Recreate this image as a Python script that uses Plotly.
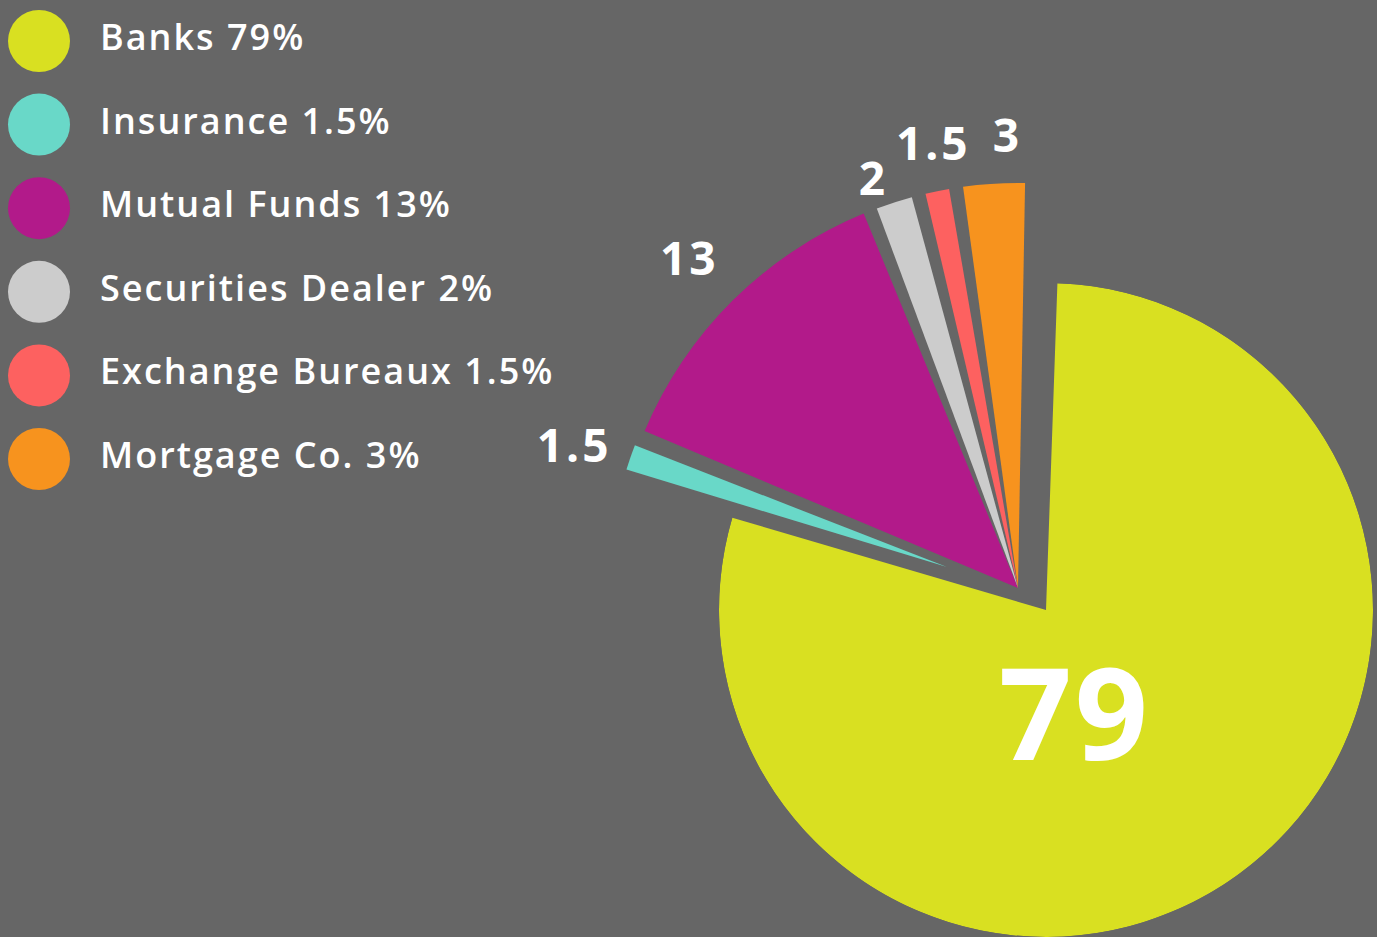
import math
import plotly.graph_objects as go

# ---------------- data ----------------
categories = ["Banks", "Insurance", "Mutual Funds", "Securities Dealer",
              "Exchange Bureaux", "Mortgage Co."]
shares = [79, 1.5, 13, 2, 1.5, 3]
share_labels = ["79", "1.5", "13", "2", "1.5", "3"]
legend_labels = ["Banks 79%", "Insurance 1.5%", "Mutual Funds 13%",
                 "Securities Dealer 2%", "Exchange Bureaux 1.5%", "Mortgage Co. 3%"]

# ---------------- style ----------------
W, H = 1377, 937
BG = "#666666"
FONT = "'Open Sans', Lato, sans-serif"
colors = ["#d9e021", "#69d8c8", "#b21a8a", "#cccccc", "#fd6160", "#f7931e"]
ROTATION = 2                      # start angle of first slice (deg, clockwise from 12 o'clock)
PAD = [0, 0.5, 1, 1, 1, 1]        # angular padding per side (deg)
GROUP = [0, 2, 1, 1, 1, 1]        # polar frame each slice is drawn in
LABEL_POS = ["middle center", "middle left", "top left", "middle left",
             "top center", "top right"]
FRAMES = [
    dict(cx=1046, cy=610, r_slice=327, r_frame=327, sector=[0, 360]),
    dict(cx=1018, cy=588, r_slice=405, r_frame=500, sector=[80, 180]),
    dict(cx=947, cy=567, r_slice=335, r_frame=420, sector=[150, 190]),
]
LABEL_GAP = 20
BIG_LABEL_FRAC = 0.37
BIG_LABEL_DTHETA = 22
LEG_X, LEG_TX, LEG_Y0, LEG_STEP = 39, 100, 41, 83.6


def sector_bbox(sector):
    s0, s1 = sector
    arc = s1 - s0
    a0 = s0 % 360
    a1 = a0 + arc
    ax0, ay0 = math.cos(math.radians(a0)), math.sin(math.radians(a0))
    ax1, ay1 = math.cos(math.radians(a1)), math.sin(math.radians(a1))
    if (a0 <= 90 and a1 >= 90) or (a0 > 90 and a1 >= 450):
        y1 = 1
    elif ay0 <= 0 and ay1 <= 0:
        y1 = 0
    else:
        y1 = max(ay0, ay1)
    if (a0 <= 180 and a1 >= 180) or (a0 > 180 and a1 >= 540):
        x0 = -1
    elif ax0 >= 0 and ax1 >= 0:
        x0 = 0
    else:
        x0 = min(ax0, ax1)
    if (a0 <= 270 and a1 >= 270) or (a0 > 270 and a1 >= 630):
        y0 = -1
    elif ay0 >= 0 and ay1 >= 0:
        y0 = 0
    else:
        y0 = min(ay0, ay1)
    if a1 >= 360:
        x1 = 1
    elif ax0 <= 0 and ax1 <= 0:
        x1 = 0
    else:
        x1 = max(ax0, ax1)
    return x0, y0, x1, y1


def clamp(v):
    return max(0.0, min(1.0, v))


# slice geometry from the data
total = sum(shares)
spans = [s / total * 360 for s in shares]
starts, acc = [], ROTATION
for sp in spans:
    starts.append(acc)
    acc += sp
centers = [st + sp / 2 for st, sp in zip(starts, spans)]
widths = [sp - 2 * p for sp, p in zip(spans, PAD)]

fig = go.Figure()
layout_polars = {}

for k, fr in enumerate(FRAMES):
    pname = "polar" if k == 0 else f"polar{k + 1}"
    idx = [i for i, g in enumerate(GROUP) if g == k]
    fig.add_trace(go.Barpolar(
        r=[fr["r_slice"]] * len(idx),
        theta=[centers[i] for i in idx],
        width=[widths[i] for i in idx],
        marker=dict(color=[colors[i] for i in idx], line=dict(width=0)),
        subplot=pname, hoverinfo="skip", showlegend=False,
    ))
    # value labels
    for i in idx:
        if shares[i] == max(shares):
            r_lab, th_lab, size = (fr["r_slice"] * BIG_LABEL_FRAC,
                                   centers[i] + BIG_LABEL_DTHETA, 128)
        else:
            r_lab, th_lab, size = fr["r_slice"] + LABEL_GAP, centers[i], 46
        fig.add_trace(go.Scatterpolar(
            r=[r_lab], theta=[th_lab], text=[share_labels[i]],
            mode="text", textposition=LABEL_POS[i], cliponaxis=False,
            textfont=dict(family=FONT, size=size, color="white", weight=700),
            subplot=pname, hoverinfo="skip", showlegend=False,
        ))
    bx0, by0, bx1, by1 = sector_bbox(fr["sector"])
    R = fr["r_frame"]
    left, right = fr["cx"] + R * bx0, fr["cx"] + R * bx1
    top, bottom = fr["cy"] - R * by1, fr["cy"] - R * by0
    layout_polars[pname] = dict(
        domain=dict(x=[clamp(left / W), clamp(right / W)],
                    y=[clamp((H - bottom) / H), clamp((H - top) / H)]),
        sector=fr["sector"], bgcolor="rgba(0,0,0,0)", hole=0,
        barmode="overlay",
        radialaxis=dict(visible=False, range=[0, R], showgrid=False, showline=False),
        angularaxis=dict(visible=False, rotation=90, direction="clockwise",
                         showgrid=False, showline=False),
    )

# custom legend with big round swatches
leg_y = [LEG_Y0 + i * LEG_STEP for i in range(len(categories))]
fig.add_trace(go.Scatter(
    x=[LEG_X] * len(categories), y=leg_y, mode="markers",
    marker=dict(size=62, color=colors, line=dict(width=0)),
    hoverinfo="skip", showlegend=False,
))
fig.add_trace(go.Scatter(
    x=[LEG_TX] * len(categories), y=leg_y, mode="text",
    text=legend_labels, textposition="middle right", cliponaxis=False,
    textfont=dict(family=FONT, size=36, color="white", weight=600),
    hoverinfo="skip", showlegend=False,
))

fig.update_layout(
    width=W, height=H, autosize=False,
    margin=dict(l=0, r=0, t=0, b=0, pad=0),
    paper_bgcolor=BG, plot_bgcolor=BG,
    showlegend=False,
    xaxis=dict(range=[0, W], domain=[0, 1], visible=False, fixedrange=True),
    yaxis=dict(range=[H, 0], domain=[0, 1], visible=False, fixedrange=True),
    **layout_polars,
)

POST = (
    "document.body.style.margin='0';"
    "document.body.style.overflow='hidden';"
    "document.body.style.background='" + BG + "';"
    "var st=document.createElement('style');"
    "st.textContent='.cartesianlayer .textpoint text{letter-spacing:2px}"
    " .polarlayer .textpoint text{letter-spacing:3px}';"
    "document.head.appendChild(st);"
)
fig.write_html("out.html", config={"displayModeBar": False}, post_script=POST)
